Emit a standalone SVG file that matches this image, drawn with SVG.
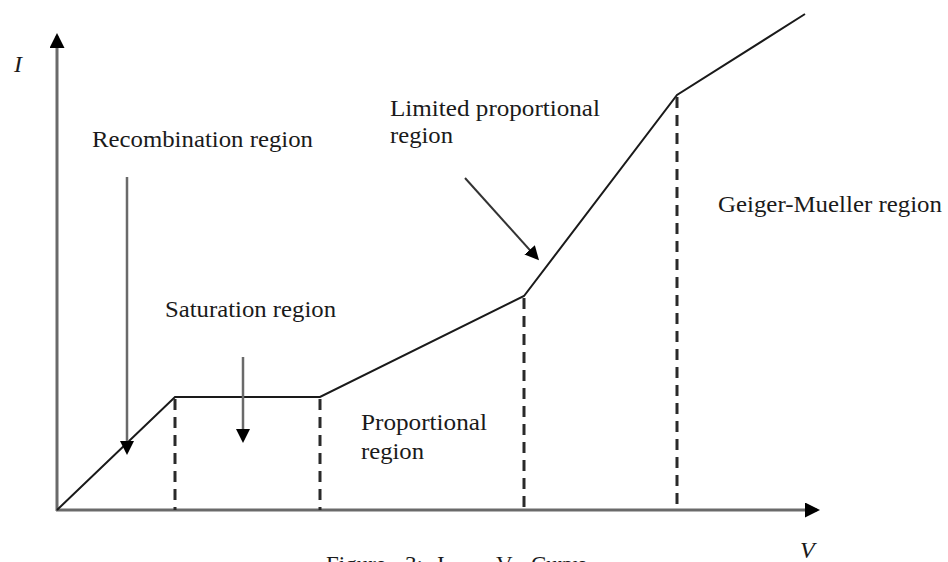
<svg xmlns="http://www.w3.org/2000/svg" width="948" height="562" viewBox="0 0 948 562">
<style>
  .lbl { font-family: "Liberation Serif", "Times New Roman", serif; font-size: 23px; fill: #1a1a1a; }
  .ax { font-family: "Liberation Serif", "Times New Roman", serif; font-size: 24px; font-style: italic; fill: #1a1a1a; }
  .axis { stroke: #6a6a6a; stroke-width: 3; fill: none; }
  .curve { stroke: #1a1a1a; stroke-width: 2; fill: none; stroke-linejoin: miter; }
  .dash { stroke: #2a2a2a; stroke-width: 3; stroke-dasharray: 11 7; fill: none; }
  .ptr { stroke: #6a6a6a; stroke-width: 2.5; fill: none; }
  .ptr2 { stroke: #333; stroke-width: 2; fill: none; }
</style>
<defs>
  <marker id="ah" markerUnits="userSpaceOnUse" markerWidth="15" markerHeight="15" viewBox="0 0 15 15" refX="12" refY="7.5" orient="auto">
    <path d="M0,0 L15,7.5 L0,15 z" fill="#000"/>
  </marker>
  <marker id="ahs" markerUnits="userSpaceOnUse" markerWidth="14" markerHeight="14" viewBox="0 0 14 14" refX="11" refY="7" orient="auto">
    <path d="M0,0 L14,7 L0,14 z" fill="#000"/>
  </marker>
</defs>
<rect width="948" height="562" fill="#fff"/>

<g id="axes">
  <line class="axis" x1="57" y1="511" x2="57" y2="36" marker-end="url(#ah)"/>
  <line class="axis" x1="56" y1="510" x2="817" y2="510" marker-end="url(#ah)"/>
  <text class="ax" x="14" y="72">I</text>
  <text class="ax" x="800" y="558">V</text>
</g>

<g id="curve">
  <polyline class="curve" points="57,510 175,397 320,397 524,296 677,95 805,14"/>
</g>

<g id="dividers">
  <line class="dash" x1="175" y1="399" x2="175" y2="510"/>
  <line class="dash" x1="320" y1="399" x2="320" y2="510"/>
  <line class="dash" x1="524" y1="298" x2="524" y2="510"/>
  <line class="dash" x1="677" y1="97" x2="677" y2="510"/>
</g>

<g id="connectors">
  <line class="ptr" x1="127" y1="177" x2="127" y2="452" marker-end="url(#ahs)"/>
  <line class="ptr" x1="243" y1="357" x2="243" y2="440" marker-end="url(#ahs)"/>
  <line class="ptr2" x1="465" y1="178" x2="537" y2="258" marker-end="url(#ahs)"/>
</g>

<g id="recombination">
  <text class="lbl" x="92" y="147" textLength="221" lengthAdjust="spacingAndGlyphs">Recombination region</text>
</g>
<g id="saturation">
  <text class="lbl" x="165" y="317" textLength="171" lengthAdjust="spacingAndGlyphs">Saturation region</text>
</g>
<g id="proportional">
  <text class="lbl" x="361" y="430" textLength="126" lengthAdjust="spacingAndGlyphs">Proportional</text>
  <text class="lbl" x="361" y="459" textLength="63" lengthAdjust="spacingAndGlyphs">region</text>
</g>
<g id="limited">
  <text class="lbl" x="390" y="116" textLength="210" lengthAdjust="spacingAndGlyphs">Limited proportional</text>
  <text class="lbl" x="390" y="143" textLength="63" lengthAdjust="spacingAndGlyphs">region</text>
</g>
<g id="geiger">
  <text class="lbl" x="718" y="212" textLength="224" lengthAdjust="spacingAndGlyphs">Geiger-Mueller region</text>
</g>

<g id="caption">
  <text class="lbl" y="572" font-size="24"><tspan x="326">Figure</tspan><tspan x="405">3:</tspan><tspan x="437">I</tspan><tspan x="464">–</tspan><tspan x="496">V</tspan><tspan x="531">Curve</tspan></text>
</g>
</svg>
